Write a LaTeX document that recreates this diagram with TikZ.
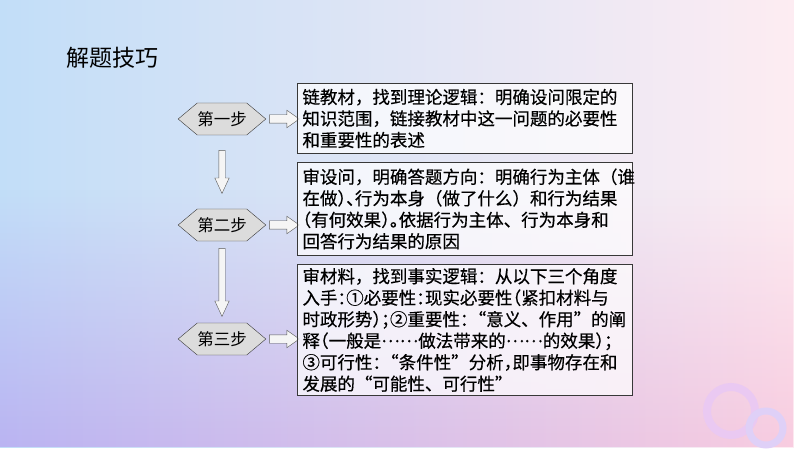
\documentclass[tikz,border=0pt]{standalone}
\usepackage{fontspec}
\setmainfont{Noto Sans CJK SC}
\usepackage{xcolor}
\definecolor{bgleft}{HTML}{C2DEF8}
\definecolor{bgright}{HTML}{FDECF2}
\definecolor{lowleft}{HTML}{BAB4F2}
\definecolor{lowright}{HTML}{F8CCE0}
\definecolor{ringpink}{HTML}{EAC9F2}
\definecolor{ringblue}{HTML}{DFD0F7}
\definecolor{hexgray}{HTML}{DCDCDC}
\definecolor{edge}{HTML}{383838}
\usepackage{tikz}
\usetikzlibrary{shapes.symbols, shapes.arrows, positioning, calc, fadings}

\newcommand\halfpunct[1]{{\addfontfeature{RawFeature=+halt}#1}}
\newcommand\fulldots{\raisebox{0.3em}{\addfontfeature{RawFeature=+fwid}……}}

\tikzset{
  stepbox/.style={signal, signal to=west and east, signal pointer angle=80,
    draw=edge, fill=hexgray, minimum width=75pt, minimum height=32pt,
    inner sep=0pt, font=\fontsize{16.5pt}{18pt}\selectfont},
  notebox/.style={draw=edge, line width=0.9pt, fill=white, fill opacity=0.7,
    text opacity=1, anchor=north west, inner xsep=5pt, inner ysep=2pt,
    text width=325pt, align=left,
    font=\fontsize{17.5pt}{21.5pt}\selectfont\addfontfeature{FakeBold=0.5}},
  flatarrow/.style={single arrow, draw=gray!70!black, fill=white!92!gray,
    inner xsep=0pt, anchor=tail},
  sidearrow/.style={flatarrow, minimum height=30pt, inner ysep=4pt,
    single arrow head extend=4.5pt, single arrow tip angle=70},
  downarrow/.style={flatarrow, rotate=-90, inner ysep=3pt,
    single arrow head extend=4pt, single arrow tip angle=50},
}

\begin{document}
\begin{tikzpicture}[x=1pt, y=-1pt]
  % background and the two rings
  \shade[left color=bgleft, right color=bgright] (0,0) rectangle (794,447);
  \shade[left color=lowleft, right color=lowright, path fading=north]
    (0,190) rectangle (794,447);
  \draw[ringpink, line width=8pt] (731,411) circle [radius=24pt];
  \draw[ringblue, line width=7pt] (766,428) circle [radius=17pt];

  \node[anchor=west, font=\fontsize{23pt}{26pt}\selectfont] (title) at (63,58) {解题技巧};

  % steps
  \node[stepbox] (step1) at (222,119) {第一步};
  \node[stepbox] (step2) at (222,225) {第二步};
  \node[stepbox] (step3) at (222,339) {第三步};

  \node[sidearrow, right=3pt of step1] (side1) {};
  \node[sidearrow, right=3pt of step2] (side2) {};
  \node[sidearrow, right=3pt of step3] (side3) {};

  \node[downarrow, minimum height=43pt] (down1) at ($(step1.south)+(0,15)$) {};
  \node[downarrow, minimum height=68pt] (down2) at ($(step2.south)+(0,7)$) {};

  % notes
  \node[notebox, minimum height=70pt] (note1) at (297,83)
    {链教材，找到理论逻辑：明确设问限定的\\
     知识范围，链接教材中这一问题的必要性\\
     和重要性的表述};
  \node[notebox, minimum height=93pt] (note2) at (297,162)
    {审设问，明确答题方向：明确行为主体（谁\\
     在做\halfpunct{）、}行为本身（做了什么）和行为结果\\
     \halfpunct{（}有何效果\halfpunct{）。}依据行为主体、行为本身和\\
     回答行为结果的原因};
  \node[notebox, minimum height=131pt] (note3) at (297,264)
    {审材料，找到事实逻辑：从以下三个角度\\
     入手\halfpunct{：}①必要性\halfpunct{：}现实必要性\halfpunct{（}紧扣材料与\\
     时政形势\halfpunct{）；}②重要性\halfpunct{：}“意义、作用”的阐\\
     释\halfpunct{（}一般是\fulldots 做法带来的\fulldots 的效果\halfpunct{）；}\\
     ③可行性\halfpunct{：}“条件性”分析\halfpunct{，}即事物存在和\\
     发展的“可能性、可行性”};
\end{tikzpicture}
\end{document}
